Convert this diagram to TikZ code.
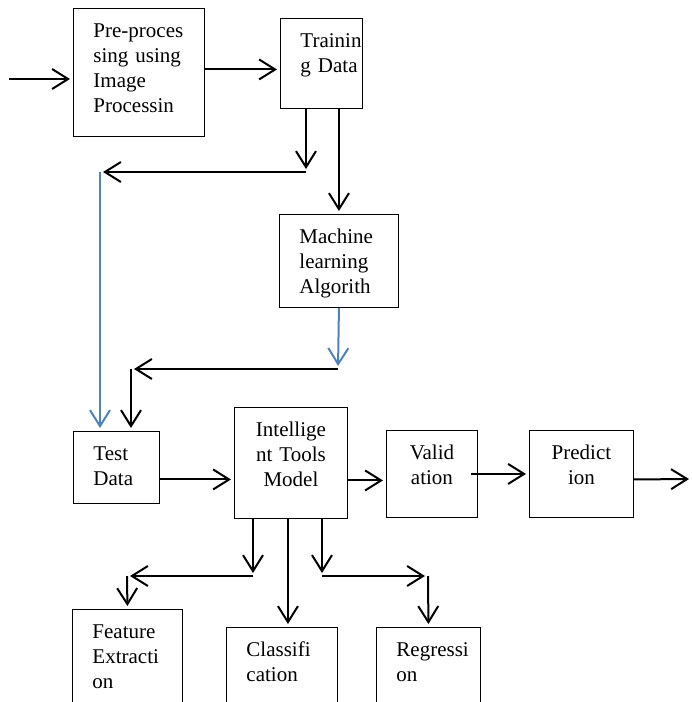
\documentclass[tikz,border=0pt]{standalone}
\usepackage{fontspec}
\setmainfont{Liberation Serif}
\usetikzlibrary{arrows.meta}

\definecolor{lineblue}{RGB}{79,129,189}
\hyphenpenalty=10000
\exhyphenpenalty=10000

\tikzset{
  box/.style={draw=black, line width=0.9pt, anchor=north west,
    inner xsep=20pt, inner ysep=14pt, text height=15pt, align=left,
    font=\fontsize{21}{25}\selectfont},
  arr/.style={-{Straight Barb[length=16pt,width=20pt]}, line width=2pt,
    shorten >=3pt},
  bluearr/.style={arr, color=lineblue},
}

\begin{document}
\begin{tikzpicture}[x=1pt, y=-1pt]
  \useasboundingbox (0,0) rectangle (692,702);
  \clip (0,0) rectangle (692,702);

  \node [box, text width=91pt, text depth=85pt] (pre) at (73,8) {Pre-proces\\sing~using\\Image\\Processin};
  \node [box, text width=42pt, text depth=47pt] (train) at (280,18) {Trainin\\g~Data};
  \node [box, text width=79pt, text depth=50pt] (mla) at (279,214) {Machine\\learning\\Algorith};
  \node [box, text width=46pt, text depth=29pt] (test) at (73,431) {Test\\Data};
  \node [box, align=center, text width=73pt, text depth=68pt] (itm) at (234,407) {Intellige\\nt~Tools\\Model};
  \node [box, align=center, text width=51pt, text depth=44pt] (valid) at (386,430) {Valid\\ation};
  \node [box, align=center, text width=64pt, text depth=44pt] (pred) at (529,430) {Predict\\ion};

  \node [box, text width=70pt, text depth=107pt] (feat) at (72,609) {Feature\\Extracti\\on};
  \node [box, text width=71pt, text depth=107pt] (classif) at (226,627) {Classifi\\cation};
  \node [box, text width=64pt, text depth=107pt] (regr) at (376,627) {Regressi\\on};

  \coordinate (in) at (9,79);
  \coordinate (out) at (692,479);
  \coordinate (j1) at (306,172);
  \coordinate (j2) at (100,172);
  \coordinate (j3) at (338,369);
  \coordinate (j4) at (131,369);
  \coordinate (k1) at (253,576);
  \coordinate (k2) at (127,576);
  \coordinate (k3) at (322,576);
  \coordinate (k4) at (428,576);

  % top row
  \path [arr] (in) edge (in -| pre.west);
  \path [arr] ([yshift=3pt]pre.east) edge ([yshift=3pt]pre.east -| train.west);

  % training data split
  \path [arr] (train.south -| j1) edge (j1);
  \path [arr] (j1) edge (j2);
  \path [bluearr] (j2) edge (j2 |- test.north);
  \path [arr] (train.south -| mla.north) edge (mla.north);
  \path [bluearr] (mla.south) edge (j3);
  \path [arr] (j3) edge (j4);
  \path [arr] (j4) edge (j4 |- test.north);

  % middle row
  \path [arr] ([yshift=-12pt]test.east) edge ([yshift=-12pt]test.east -| itm.west);
  \path [arr] ([yshift=-17.5pt]itm.east) edge ([yshift=-17.5pt]itm.east -| valid.west);
  \path [arr] ([xshift=-7pt]valid.east) edge (pred.west);
  \path [arr] ([yshift=-5.5pt]pred.east) edge (out);

  % outputs of the model
  \path [arr] (itm.south -| k1) edge (k1);
  \path [arr] (k1) edge (k2);
  \path [arr] (k2) edge (feat.north);
  \path [arr] ([xshift=-3pt]itm.south) edge ([xshift=-3pt]itm.south |- classif.north);
  \path [arr] (itm.south -| k3) edge (k3);
  \path [arr] (k3) edge (k4);
  \path [arr] (k4) edge (regr.north);
\end{tikzpicture}
\end{document}
